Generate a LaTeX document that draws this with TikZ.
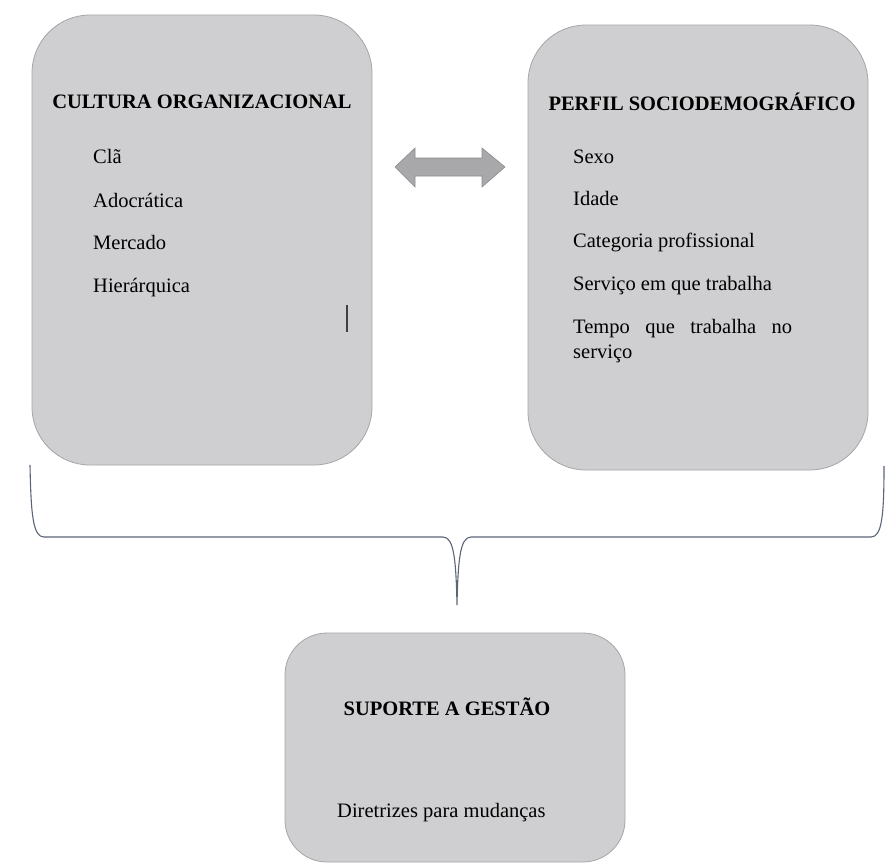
\documentclass[tikz,border=0pt]{standalone}
\usepackage{fontspec}
\setmainfont{Liberation Serif}
\usepackage{tikz}
\usetikzlibrary{shapes,arrows,positioning}
\definecolor{boxgray}{RGB}{207,207,209}
\definecolor{boxline}{RGB}{165,165,167}
\definecolor{arrowgray}{RGB}{168,168,170}
\definecolor{arrowline}{RGB}{140,140,142}
\definecolor{braceline}{RGB}{92,101,118}
\tikzstyle{panel} = [draw=boxline, fill=boxgray, rectangle, rounded corners=58pt, line width=0.8pt]
\tikzstyle{heading} = [font=\fontsize{20.5}{24}\selectfont\bfseries, inner sep=0pt, anchor=base]
\tikzstyle{entry} = [font=\fontsize{20.5}{25}\selectfont, inner sep=0pt, anchor=base west]

\begin{document}
\begin{tikzpicture}[x=1pt, y=-1pt]
        \useasboundingbox (0,0) rectangle (894,862);

        % the two upper panels
        \node [panel, minimum width=340pt, minimum height=450pt] (cultura) at (202,240) {};
        \node [panel, minimum width=340pt, minimum height=445pt] (perfil) at (698,247.5) {};
        % lower panel
        \node [panel, rounded corners=42pt, minimum width=340pt, minimum height=229pt] (suporte) at (455,747.5) {};

        \node [heading] (cultitle) at (202,108) {CULTURA ORGANIZACIONAL};
        \node [entry] (cla) at (93,163) {Clã};
        \node [entry] (adocratica) at (93,207) {Adocrática};
        \node [entry] (mercado) at (93,249) {Mercado};
        \node [entry] (hierarquica) at (93,292) {Hierárquica};
        \draw[black!75, line width=1.2pt] (347,305) -- (347,332);

        \node [heading] (perftitle) at (702,110) {PERFIL SOCIODEMOGRÁFICO};
        \node [entry] (sexo) at (573,163) {Sexo};
        \node [entry] (idade) at (573,205) {Idade};
        \node [entry] (categoria) at (573,247) {Categoria profissional};
        \node [entry] (servico) at (573,290) {Serviço em que trabalha};
        \node [entry, anchor=base west, text width=219pt, align=left] (tempo) at (573,333) {
            Tempo\hfill que\hfill trabalha\hfill no\\serviço
        };

        \node [heading] (suptitle) at (447,715) {SUPORTE A GESTÃO};
        \node [entry] (diretrizes) at (337,817) {Diretrizes para mudanças};

        % two-way arrow
        \draw[fill=arrowgray, draw=arrowline, line width=0.6pt]
            (395,167) -- (415,148) -- (415,158) -- (482,158) -- (482,148) -- (505,167)
            -- (482,187) -- (482,176) -- (415,176) -- (415,187) -- cycle;

        % brace
        \draw[braceline, line width=1.1pt]
            (30,465) .. controls (31,515) and (33,537) .. (44,537) -- (443,537)
            .. controls (454,537) and (456,560) .. (457,605)
            .. controls (458,560) and (460,537) .. (471,537) -- (871,537)
            .. controls (882,537) and (884,515) .. (884,466);
    \end{tikzpicture}
\end{document}
